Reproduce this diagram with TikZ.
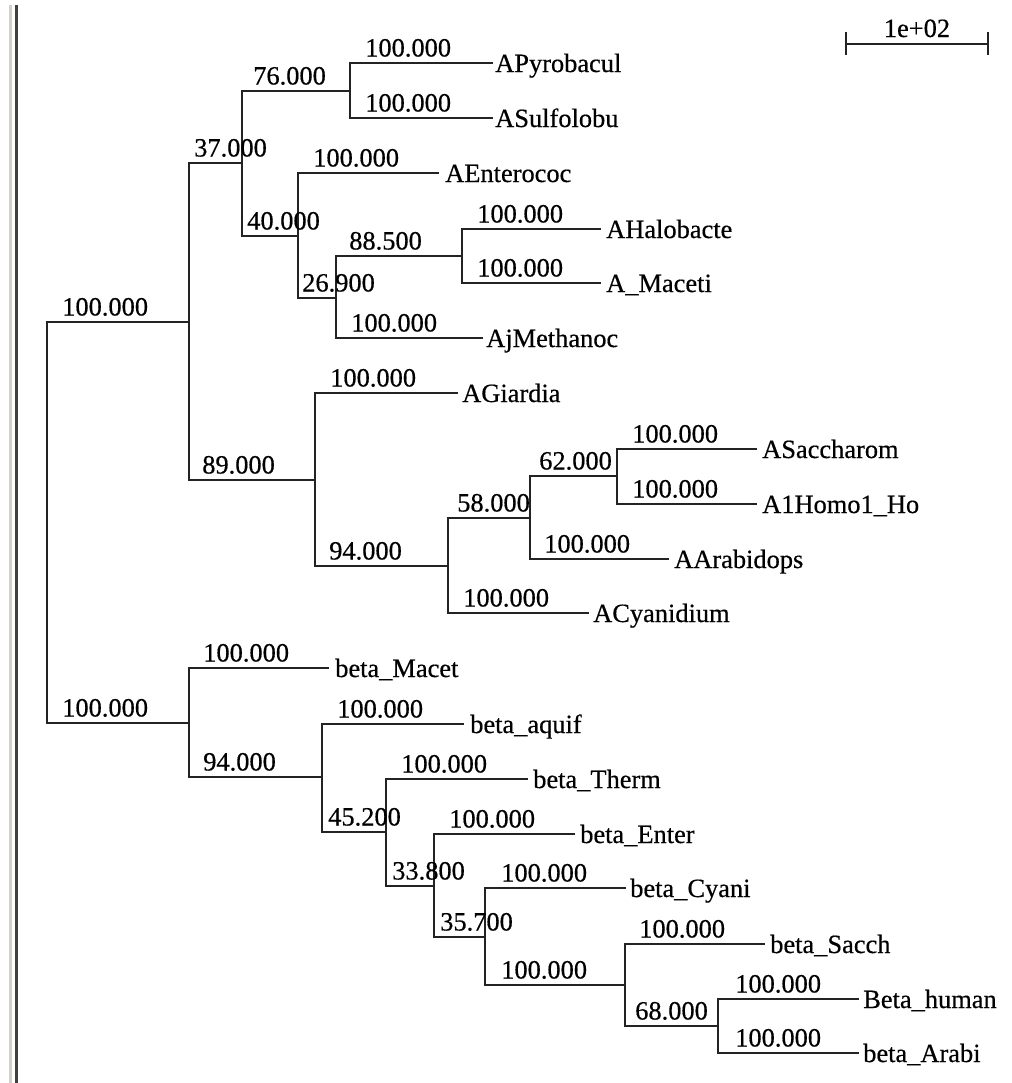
\documentclass[tikz,border=0pt]{standalone}
\usepackage{fontspec}
\setmainfont{Liberation Serif}[UprightFeatures={FakeBold=0.5}]
\definecolor{linecol}{RGB}{35,35,35}
\definecolor{chromelight}{RGB}{212,208,200}
\definecolor{chromedark}{RGB}{64,64,64}
\begin{document}
\begin{tikzpicture}[x=0.75pt,y=-0.75pt,
  br/.style={line width=0.9pt, draw=linecol, line cap=rect},
  blab/.style={anchor=base west, inner sep=0pt, font=\fontsize{19.8}{22}\selectfont},
  leaf/.style={anchor=base west, inner sep=0pt, font=\fontsize{19.8}{22}\selectfont},
  sblab/.style={anchor=base, inner sep=0pt, font=\fontsize{19.8}{22}\selectfont}]
\useasboundingbox (0,0) rectangle (1012,1083);
% window chrome on the left
\fill[chromelight] (9,5) rectangle (12,1083);
\fill[chromedark] (15,5) rectangle (17.5,1083);

% ---- internal nodes (x, y of incoming branch) ----
\coordinate (root) at (47,522);
\coordinate (nA) at (189,322);
\coordinate (nB) at (189,723);
\coordinate (n37) at (242,163);
\coordinate (n89) at (315,480);
\coordinate (n76) at (350,91);
\coordinate (n40) at (298,236);
\coordinate (n269) at (336,298);
\coordinate (n885) at (462,256);
\coordinate (n94a) at (448,566);
\coordinate (n58) at (530,518);
\coordinate (n62) at (617,476);
\coordinate (n94b) at (322,777);
\coordinate (n452) at (386,832);
\coordinate (n338) at (434,886);
\coordinate (n357) at (485,937);
\coordinate (n100) at (625,985);
\coordinate (n68) at (718,1026);
% ---- leaf tips ----
\coordinate (tPyro) at (492,63);
\coordinate (tSulf) at (492,118);
\coordinate (tEnte) at (438,173);
\coordinate (tHalo) at (600,229);
\coordinate (tMace) at (600,283);
\coordinate (tMeth) at (482,338);
\coordinate (tGiar) at (457,393);
\coordinate (tSacc) at (756,449);
\coordinate (tHomo) at (756,504);
\coordinate (tArab) at (668,559);
\coordinate (tCyan) at (588,613);
\coordinate (tbMac) at (328,668);
\coordinate (tbAqu) at (463,724);
\coordinate (tbThe) at (527,779);
\coordinate (tbEnt) at (574,834);
\coordinate (tbCya) at (625,888);
\coordinate (tbSac) at (764,944);
\coordinate (tbHum) at (858,999);
\coordinate (tbAra) at (858,1053);

% ---- branches ----
\draw[br] (root) |- (nA);
\draw[br] (root) |- (nB);
\draw[br] (nA) |- (n37);
\draw[br] (nA) |- (n89);
\draw[br] (n37) |- (n76);
\draw[br] (n37) |- (n40);
\draw[br] (n76) |- (tPyro);
\draw[br] (n76) |- (tSulf);
\draw[br] (n40) |- (tEnte);
\draw[br] (n40) |- (n269);
\draw[br] (n269) |- (n885);
\draw[br] (n269) |- (tMeth);
\draw[br] (n885) |- (tHalo);
\draw[br] (n885) |- (tMace);
\draw[br] (n89) |- (tGiar);
\draw[br] (n89) |- (n94a);
\draw[br] (n94a) |- (n58);
\draw[br] (n94a) |- (tCyan);
\draw[br] (n58) |- (n62);
\draw[br] (n58) |- (tArab);
\draw[br] (n62) |- (tSacc);
\draw[br] (n62) |- (tHomo);
\draw[br] (nB) |- (tbMac);
\draw[br] (nB) |- (n94b);
\draw[br] (n94b) |- (tbAqu);
\draw[br] (n94b) |- (n452);
\draw[br] (n452) |- (tbThe);
\draw[br] (n452) |- (n338);
\draw[br] (n338) |- (tbEnt);
\draw[br] (n338) |- (n357);
\draw[br] (n357) |- (tbCya);
\draw[br] (n357) |- (n100);
\draw[br] (n100) |- (tbSac);
\draw[br] (n100) |- (n68);
\draw[br] (n68) |- (tbHum);
\draw[br] (n68) |- (tbAra);

% ---- branch labels ----
\node[blab] (lnA) at (62,315.5) {100.000};
\node[blab] (lnB) at (62,716.5) {100.000};
\node[blab] (l37) at (194,156.5) {37.000};
\node[blab] (l89) at (202,473.5) {89.000};
\node[blab] (l76) at (253,84.5) {76.000};
\node[blab] (l40) at (247,229.5) {40.000};
\node[blab] (lPyro) at (365,56.5) {100.000};
\node[blab] (lSulf) at (365,111.5) {100.000};
\node[blab] (lEnte) at (313,166.5) {100.000};
\node[blab] (l269) at (302,291.5) {26.900};
\node[blab] (l885) at (349,249.5) {88.500};
\node[blab] (lHalo) at (477,222.5) {100.000};
\node[blab] (lMace) at (477,276.5) {100.000};
\node[blab] (lMeth) at (351,331.5) {100.000};
\node[blab] (lGiar) at (330,386.5) {100.000};
\node[blab] (l94a) at (329,559.5) {94.000};
\node[blab] (l58) at (457,511.5) {58.000};
\node[blab] (l62) at (539,469.5) {62.000};
\node[blab] (lSacc) at (632,442.5) {100.000};
\node[blab] (lHomo) at (632,497.5) {100.000};
\node[blab] (lArab) at (544,552.5) {100.000};
\node[blab] (lCyan) at (463,606.5) {100.000};
\node[blab] (lbMac) at (203,661.5) {100.000};
\node[blab] (l94b) at (203,770.5) {94.000};
\node[blab] (lbAqu) at (337,717.5) {100.000};
\node[blab] (l452) at (328,825.5) {45.200};
\node[blab] (lbThe) at (401,772.5) {100.000};
\node[blab] (l338) at (392,879.5) {33.800};
\node[blab] (lbEnt) at (449,827.5) {100.000};
\node[blab] (l357) at (440,930.5) {35.700};
\node[blab] (lbCya) at (501,881.5) {100.000};
\node[blab] (l100) at (501,978.5) {100.000};
\node[blab] (lbSac) at (639,937.5) {100.000};
\node[blab] (l68) at (635,1019.5) {68.000};
\node[blab] (lbHum) at (735,992.5) {100.000};
\node[blab] (lbAra) at (735,1046.5) {100.000};

% ---- leaf names ----
\node[leaf] (Pyro) at (495,72) {APyrobacul};
\node[leaf] (Sulf) at (495,127) {ASulfolobu};
\node[leaf] (Ente) at (445,182) {AEnterococ};
\node[leaf] (Halo) at (606,238) {AHalobacte};
\node[leaf] (Mace) at (606,292) {A\_Maceti};
\node[leaf] (Meth) at (486,347) {AjMethanoc};
\node[leaf] (Giar) at (462,402) {AGiardia};
\node[leaf] (Sacc) at (762,458) {ASaccharom};
\node[leaf] (Homo) at (762,513) {A1Homo1\_Ho};
\node[leaf] (Arab) at (674,568) {AArabidops};
\node[leaf] (Cyan) at (593,622) {ACyanidium};
\node[leaf] (bMac) at (335,677) {beta\_Macet};
\node[leaf] (bAqu) at (470,733) {beta\_aquif};
\node[leaf] (bThe) at (533,788) {beta\_Therm};
\node[leaf] (bEnt) at (580,843) {beta\_Enter};
\node[leaf] (bCya) at (630,897) {beta\_Cyani};
\node[leaf] (bSac) at (770,953) {beta\_Sacch};
\node[leaf] (bHum) at (863,1008) {Beta\_human};
\node[leaf] (bAra) at (863,1062) {beta\_Arabi};

% ---- scale bar ----
\coordinate (sbL) at (846,44);
\coordinate (sbR) at (988,44);
\coordinate (sbLt) at (846,33);
\coordinate (sbLb) at (846,54);
\coordinate (sbRt) at (988,33);
\coordinate (sbRb) at (988,54);
\draw[br] (sbL) -- (sbR);
\draw[br] (sbLt) -- (sbLb);
\draw[br] (sbRt) -- (sbRb);
\node[sblab] (sbtext) at (917,37) {1e+02};
\end{tikzpicture}
\end{document}
